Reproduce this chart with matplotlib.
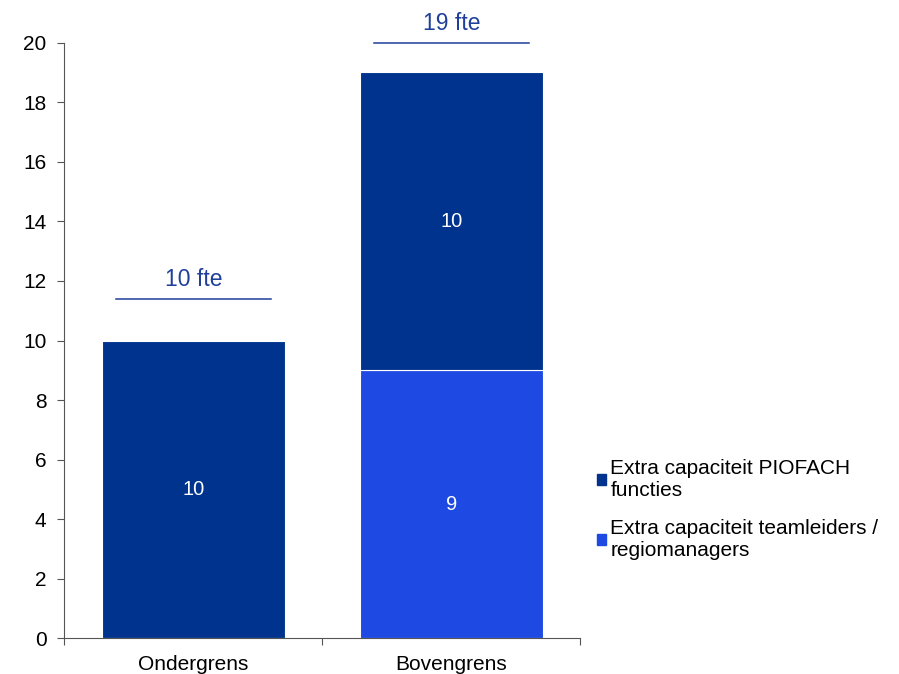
import numpy as np
import matplotlib.pyplot as plt
from matplotlib.patches import Patch

plt.rcParams["font.family"] = ["Liberation Sans", "DejaVu Sans"]

CATEGORIES = ["Ondergrens", "Bovengrens"]
TEAMLEIDERS = [0, 9]
PIOFACH = [10, 10]
TOTAL_LABELS = ["10 fte", "19 fte"]

DARK = "#00338D"
LIGHT = "#1E49E2"
LINE = "#1F3F99"


def main():
    fig = plt.figure(figsize=(8.99, 6.74), dpi=100)
    ax = fig.add_axes([0.0717, 0.0528, 0.574, 0.884])

    x = np.arange(len(CATEGORIES))
    width = 0.71
    teams = np.array(TEAMLEIDERS)
    pio = np.array(PIOFACH)
    totals = teams + pio

    ax.bar(x, teams, width, color=LIGHT, edgecolor="white", linewidth=0.8)
    ax.bar(x, pio, width, bottom=teams, color=DARK, edgecolor="white", linewidth=0.8)

    # segment labels
    for i in range(len(x)):
        if teams[i] > 0:
            ax.text(x[i], teams[i] / 2, str(teams[i]), color="white",
                    ha="center", va="center", fontsize=14.5)
        ax.text(x[i], teams[i] + pio[i] / 2, str(pio[i]), color="white",
                ha="center", va="center", fontsize=14.5)

    # totals above bars, the line is kept at or below the top of the axis
    for i in range(len(x)):
        y_line = min(totals[i] + 1.4, 20)
        ax.plot([x[i] - 0.30, x[i] + 0.30], [y_line] * 2,
                color=LINE, lw=1.1, clip_on=False)
        ax.text(x[i], y_line + 0.65, TOTAL_LABELS[i], color=LINE,
                ha="center", va="center", fontsize=16.5, clip_on=False)

    ax.set_xlim(-0.5, len(x) - 0.5)
    ax.set_ylim(0, 20)
    ax.set_yticks(np.arange(0, 21, 2))
    ax.set_xticks(np.arange(-0.5, len(x), 1.0))
    ax.set_xticklabels([])
    ax.set_xticks(x, minor=True)
    ax.set_xticklabels(CATEGORIES, minor=True)
    ax.tick_params(axis="x", which="minor", length=0, labelsize=15, pad=12)
    ax.tick_params(axis="x", which="major", length=5, color="#555555")
    ax.tick_params(axis="y", length=5, color="#555555", labelsize=15, pad=8)

    for side in ["top", "right"]:
        ax.spines[side].set_visible(False)
    for side in ["left", "bottom"]:
        ax.spines[side].set_color("#555555")

    handles = [
        Patch(color=DARK, label="Extra capaciteit PIOFACH\nfuncties"),
        Patch(color=LIGHT, label="Extra capaciteit teamleiders /\nregiomanagers"),
    ]
    fig.legend(handles=handles, loc="center left", bbox_to_anchor=(0.643, 0.244),
               frameon=False, fontsize=15, handlelength=0.45, handleheight=0.45,
               handletextpad=0.2, labelspacing=0.9)

    fig.savefig("out.png", dpi=100)


if __name__ == "__main__":
    main()
